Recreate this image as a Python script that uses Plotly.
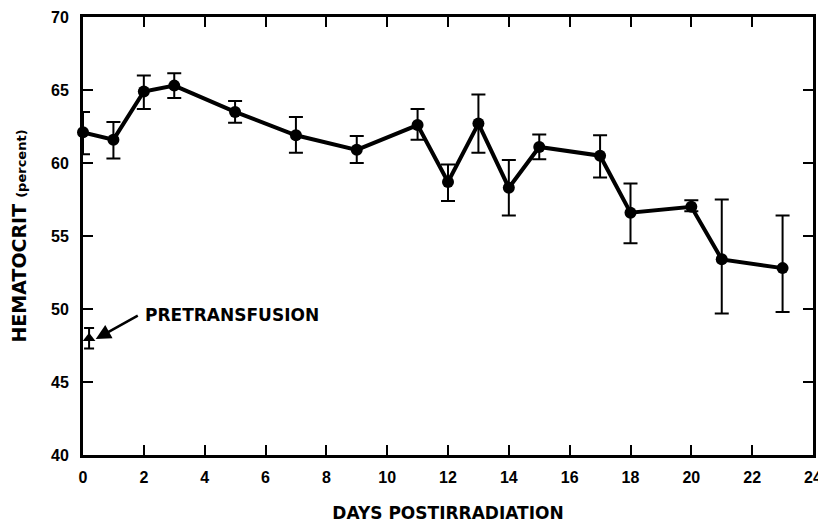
import plotly.graph_objects as go

days = [0, 1, 2, 3, 5, 7, 9, 11, 12, 13, 14, 15, 17, 18, 20, 21, 23]
hematocrit = [62.1, 61.6, 64.9, 65.3, 63.5, 61.9, 60.9, 62.6, 58.7, 62.7, 58.3, 61.1, 60.5, 56.6, 57.0, 53.4, 52.8]
err_plus = [1.4, 1.2, 1.1, 0.85, 0.75, 1.25, 0.95, 1.1, 1.2, 2.0, 1.9, 0.85, 1.4, 2.0, 0.45, 4.1, 3.6]
err_minus = [1.5, 1.3, 1.2, 0.85, 0.75, 1.2, 0.9, 1.0, 1.3, 2.0, 1.9, 0.85, 1.5, 2.1, 0.3, 3.7, 3.0]

pre_day = [0.2]
pre_value = [48.0]
pre_err = [0.7]

x_ticks = list(range(0, 25, 2))
y_ticks = list(range(40, 71, 5))

TICK_FONT = "Liberation Sans"
TITLE_FONT = "DejaVu Sans"

fig = go.Figure()
fig.add_trace(go.Scatter(
    x=days, y=hematocrit, mode="lines+markers",
    line=dict(color="black", width=4),
    marker=dict(color="black", size=12, symbol="circle"),
    error_y=dict(type="data", symmetric=False, array=err_plus, arrayminus=err_minus,
                 color="black", thickness=2, width=7),
    cliponaxis=False,
    showlegend=False,
))
fig.add_trace(go.Scatter(
    x=pre_day, y=pre_value, mode="markers",
    marker=dict(color="black", size=11, symbol="triangle-up"),
    error_y=dict(type="data", array=pre_err, color="black", thickness=2, width=5),
    cliponaxis=False,
    showlegend=False,
))

fig.add_annotation(x=0.42, y=47.95, ax=1.85, ay=49.6, axref="x", ayref="y",
                   xref="x", yref="y", text="", showarrow=True,
                   arrowhead=2, arrowsize=1.2, arrowwidth=2.5, arrowcolor="black")
fig.add_annotation(x=1.98, y=49.6, xref="x", yref="y", text="<b>PRETRANSFUSION</b>",
                   showarrow=False, xanchor="left", yanchor="middle",
                   font=dict(family=TITLE_FONT, size=17, color="black"))

axis_common = dict(
    showline=True, linecolor="black", linewidth=3, mirror="ticks",
    ticks="inside", ticklen=10, tickwidth=2, tickcolor="black",
    showgrid=False, zeroline=False, automargin=False,
    tickfont=dict(family=TICK_FONT, size=16, color="black", weight="bold"),
)

fig.update_xaxes(range=[0, 24], tickvals=x_ticks, ticklabelstandoff=6, **axis_common,
                 title=dict(text="<b>DAYS POSTIRRADIATION</b>", standoff=22,
                            font=dict(family=TITLE_FONT, size=17, color="black")))
fig.update_yaxes(range=[40, 70], tickvals=y_ticks, ticklabelstandoff=8, **axis_common,
                 title=dict(text="<b>HEMATOCRIT</b> <span style='font-size:13px'><b>(percent)</b></span>",
                            standoff=20, font=dict(family=TITLE_FONT, size=19, color="black")))

fig.update_layout(
    width=818, height=517,
    margin=dict(l=75, r=13, t=9, b=70),
    paper_bgcolor="white", plot_bgcolor="white",
)

fig.write_html("out.html")
